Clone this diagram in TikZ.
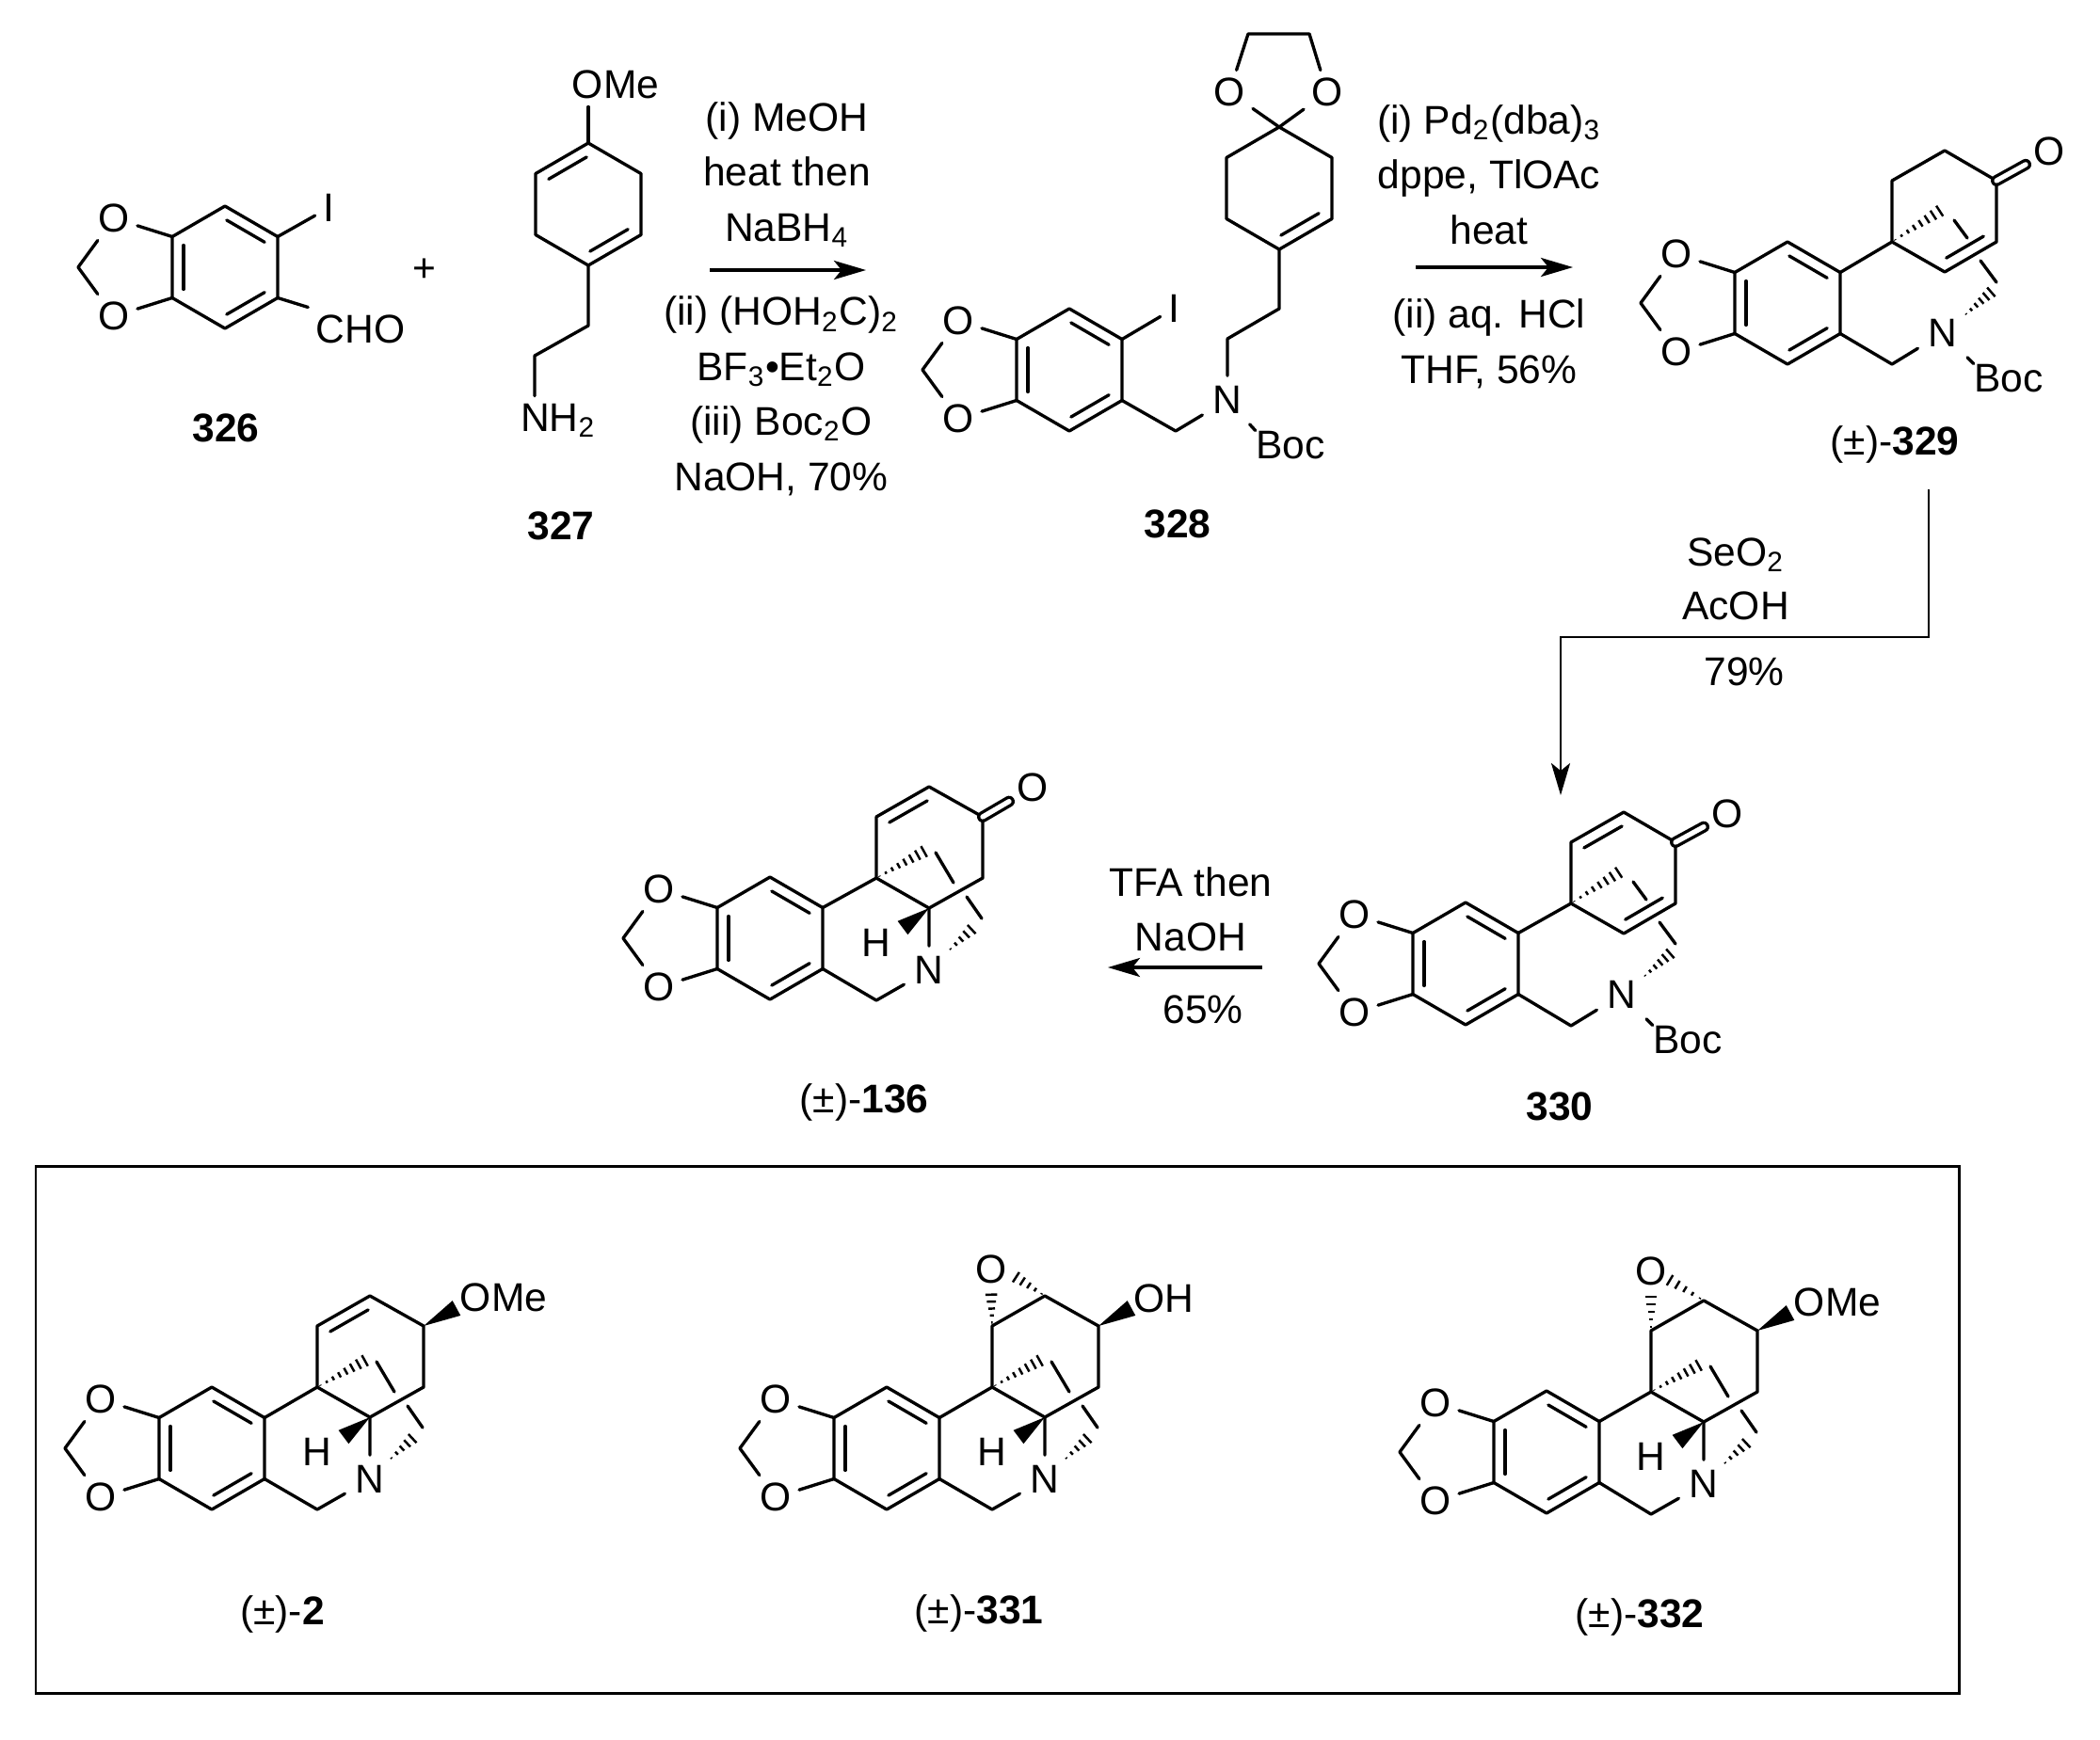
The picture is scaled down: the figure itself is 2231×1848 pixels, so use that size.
\documentclass[tikz,border=0pt]{standalone}
\usepackage{fontspec}
\setmainfont{Liberation Sans}
\usetikzlibrary{arrows.meta,calc}
\newcommand{\chemfont}{\fontsize{12.1}{16.6}\selectfont}
\newcommand{\inbond}[2]{\draw[bond] ($(#1)!.14!(#2)!0.12cm!-90:(#2)$) -- ($(#2)!.14!(#1)!0.12cm!90:(#1)$);}
\newcommand{\hashbond}[3]{\foreach \i [evaluate=\i as \t using (\i-.5)/#3] in {1,...,#3}
  {\draw[hash] ($(#1)!\t!(#2)!\t*0.07cm!90:(#2)$) -- ($(#1)!\t!(#2)!\t*0.07cm!-90:(#2)$);}}
\newcommand{\wedgebond}[2]{\fill ($(#2)!.09cm!90:(#1)$) -- (#1) -- ($(#2)!.09cm!-90:(#1)$) -- cycle;}
\newcommand{\hexring}{
  \coordinate (-t) at (0,-65);
  \coordinate (-tr) at (56,-32.5);
  \coordinate (-br) at (56,32.5);
  \coordinate (-b) at (0,65);
  \coordinate (-bl) at (-56,32.5);
  \coordinate (-tl) at (-56,-32.5);
  \draw[bond] (-t) -- (-tr) -- (-br) -- (-b) -- (-bl) -- (-tl) -- cycle;}
\tikzset{
  bond/.style={line width=.95pt,line cap=round,line join=round},
  hash/.style={line width=.7pt},
  dbl/.style={bond,double,double distance=1.5pt},
  rxn/.style={line width=.95pt,-{Stealth[length=3.4mm,width=2mm,inset=.8mm]}},
  atom/.style={inner sep=2.2pt},
  natom/.style={inner sep=3pt},
  bocatom/.style={inner sep=0pt},
  txt/.style={inner sep=0pt,text height=8.7pt,text depth=0pt},
  reag/.style={inner sep=0pt,align=center,anchor=base},
  hexring/.pic={\hexring},
  dioxole/.pic={
    \hexring
    \inbond{-t}{-tr}
    \inbond{-br}{-b}
    \inbond{-bl}{-tl}
    \node[atom] (-o1) at (-118,-52) {O};
    \node[atom] (-o2) at (-118,52) {O};
    \coordinate (-ch) at (-156,0);
    \draw[bond] (-tl) -- (-o1) -- (-ch) -- (-o2) -- (-bl);
  },
  nbridge/.pic={
    \coordinate (-q) at (0,0);
    \coordinate (-u1) at (0,-65);
    \coordinate (-u2) at (56,-97);
    \coordinate (-u3) at (113,-65);
    \coordinate (-u4) at (113,0);
    \coordinate (-u5) at (56,32);
    \coordinate (-ch) at (0,130);
    \node[natom] (-n) at (56,98) {N};
    \node[atom] (-h) at (0,69) {H};
    \coordinate (-ha) at (54,-30);
    \coordinate (-la) at (63,-27);
    \coordinate (-lb) at (82,5);
    \coordinate (-lc) at (96,20);
    \coordinate (-ld) at (112,43);
    \coordinate (-hb) at (104,52);
    \coordinate (-hc) at (76,78);
    \coordinate (-wd) at (28,53);
    \draw[bond] (-q) -- (-u1) -- (-u2) -- (-u3) -- (-u4) -- (-u5) -- cycle;
    \draw[bond] (-u5) -- (-n) -- (-ch);
    \draw[bond] (-la) -- (-lb);
    \draw[bond] (-lc) -- (-ld);
    \hashbond{-q}{-ha}{8}
    \hashbond{-hc}{-hb}{5}
    \wedgebond{-u5}{-wd}
  },
  bocbridge/.pic={
    \coordinate (-q) at (0,0);
    \coordinate (-u1) at (0,-65);
    \coordinate (-u2) at (56,-97);
    \coordinate (-u3) at (111,-65);
    \coordinate (-u4) at (111,0);
    \coordinate (-u5) at (56,32);
    \coordinate (-ch) at (0,130);
    \node[natom] (-n) at (54,97) {N};
    \node[bocatom] (-boc) at (124,145) {Boc};
    \coordinate (-ha) at (54,-35);
    \coordinate (-la) at (66,-23);
    \coordinate (-lb) at (80,-4);
    \coordinate (-lc) at (94,20);
    \coordinate (-ld) at (111,43);
    \coordinate (-hb) at (108,51);
    \coordinate (-hc) at (76,79);
    \draw[bond] (-q) -- (-u1) -- (-u2) -- (-u3) -- (-u4) -- (-u5) -- cycle;
    \draw[bond] (-ch) -- (-n) -- (-boc.north west);
    \draw[bond] (-la) -- (-lb);
    \draw[bond] (-lc) -- (-ld);
    \hashbond{-q}{-ha}{8}
    \hashbond{-hc}{-hb}{6}
  }
}
\begin{document}
\begin{tikzpicture}[x=0.01cm,y=-0.01cm,every node/.append style={font=\chemfont}]
  \useasboundingbox (0,0) rectangle (2231,1848);

  % 326
  \pic (ar1) at (239,284) {dioxole};
  \node[atom] (iod1) at (349,221) {I};
  \node[atom] (cho) at (383,350) {CHO};
  \draw[bond] (ar1-tr) -- (iod1);
  \draw[bond] (ar1-br) -- (cho.north west);
  \node[txt] (lb326) at (240,454) {\textbf{326}};
  \node[atom] (plus) at (451,287) {+};

  % 327
  \pic (hx2) at (625,217) {hexring};
  \inbond{hx2-tl}{hx2-t}
  \inbond{hx2-br}{hx2-b}
  \node[atom] (ome1) at (654,90) {OMe};
  \node[atom] (nh2) at (593,447) {NH\textsubscript{2}};
  \coordinate (c1) at (625,346);
  \coordinate (c2) at (568,378);
  \draw[bond] (hx2-t) -- (hx2-t |- ome1.south);
  \draw[bond] (hx2-b) -- (c1) -- (c2) -- (c2 |- nh2.north);
  \node[txt] (lb327) at (596,558) {\textbf{327}};

  % first step
  \coordinate (ra) at (754,287);
  \coordinate (rb) at (920,287);
  \draw[rxn] (ra) -- (rb);
  \node[reag] (rg1a) at (836,256) {(i) MeOH\\heat then\\NaBH\textsubscript{4}};
  \node[reag] (rg1b) at (830,521) {(ii) (HOH\textsubscript{2}C)\textsubscript{2}\\BF\textsubscript{3}•Et\textsubscript{2}O\\(iii) Boc\textsubscript{2}O\\NaOH, 70\%};

  % 328
  \pic (ar3) at (1136,393) {dioxole};
  \pic (hx3) at (1359,200) {hexring};
  \inbond{hx3-br}{hx3-b}
  \node[atom] (iod3) at (1247,328) {I};
  \node[atom] (oa) at (1306,98) {O};
  \node[atom] (ob) at (1410,98) {O};
  \coordinate (ea) at (1326,36);
  \coordinate (eb) at (1391,36);
  \node[natom] (n3) at (1304,425) {N};
  \node[bocatom] (boc3) at (1371,473) {Boc};
  \coordinate (c3) at (1359,328);
  \coordinate (c4) at (1304,360);
  \coordinate (c5) at (1249,458);
  \draw[bond] (hx3-t) -- (oa) -- (ea) -- (eb) -- (ob) -- (hx3-t);
  \draw[bond] (hx3-b) -- (c3) -- (c4) -- (n3) -- (c5) -- (ar3-br);
  \draw[bond] (n3) -- (boc3.north west);
  \draw[bond] (ar3-tr) -- (iod3);
  \node[txt] (lb328) at (1251,556) {\textbf{328}};

  % second step
  \coordinate (rc) at (1504,284);
  \coordinate (rd) at (1671,284);
  \draw[rxn] (rc) -- (rd);
  \node[reag] (rg2a) at (1582,259) {(i) Pd\textsubscript{2}(dba)\textsubscript{3}\\dppe, TlOAc\\heat};
  \node[reag] (rg2b) at (1582,407) {(ii) aq. HCl\\THF, 56\%};

  % 329
  \pic (ar4) at (1899,322) {dioxole};
  \pic (br4) at (2010,257) {bocbridge};
  \inbond{br4-u4}{br4-u5}
  \node[atom] (ok4) at (2177,161) {O};
  \draw[bond] (ar4-tr) -- (br4-q);
  \draw[bond] (ar4-br) -- (br4-ch);
  \draw[dbl] (br4-u3) -- (ok4);
  \node[txt] (lb329) at (2013,468) {(±)-\textbf{329}};

  % third step
  \coordinate (sa) at (2049,520);
  \coordinate (sb) at (2049,677);
  \coordinate (sc) at (1658,677);
  \coordinate (sd) at (1658,845);
  \draw[rxn,line width=.8pt] (sa) -- (sb) -- (sc) -- (sd);
  \node[txt] (rg3a) at (1844,586) {SeO\textsubscript{2}};
  \node[txt] (rg3b) at (1844,643) {AcOH};
  \node[txt] (rg3c) at (1853,713) {79\%};

  % 330
  \pic (ar5) at (1557,1024) {dioxole};
  \pic (br5) at (1669,960) {bocbridge};
  \inbond{br5-u1}{br5-u2}
  \inbond{br5-u4}{br5-u5}
  \node[atom] (ok5) at (1835,865) {O};
  \draw[bond] (ar5-tr) -- (br5-q);
  \draw[bond] (ar5-br) -- (br5-ch);
  \draw[dbl] (br5-u3) -- (ok5);
  \node[txt] (lb330) at (1657,1175) {\textbf{330}};

  % fourth step
  \coordinate (re) at (1341,1028);
  \coordinate (rf) at (1177,1028);
  \draw[rxn] (re) -- (rf);
  \node[txt] (rg4a) at (1265,937) {TFA then};
  \node[txt] (rg4b) at (1265,995) {NaOH};
  \node[txt] (rg4c) at (1278,1072) {65\%};

  % 136
  \pic (ar6) at (818,997) {dioxole};
  \pic (br6) at (931,933) {nbridge};
  \inbond{br6-u1}{br6-u2}
  \node[atom] (ok6) at (1097,837) {O};
  \draw[bond] (ar6-tr) -- (br6-q);
  \draw[bond] (ar6-br) -- (br6-ch);
  \draw[dbl] (br6-u3) -- (ok6);
  \node[txt] (lb136) at (918,1167) {(±)-\textbf{136}};

  % box
  \coordinate (fa) at (38,1239);
  \coordinate (fb) at (2081,1799);
  \draw[line width=.85pt] (fa) rectangle (fb);

  % 2
  \pic (ar7) at (225,1539) {dioxole};
  \pic (br7) at (337,1474) {nbridge};
  \inbond{br7-u1}{br7-u2}
  \node[atom] (ome7) at (535,1379) {OMe};
  \coordinate (wd7) at (485,1390);
  \draw[bond] (ar7-tr) -- (br7-q);
  \draw[bond] (ar7-br) -- (br7-ch);
  \wedgebond{br7-u3}{wd7}
  \node[txt] (lb2) at (300,1711) {(±)-\textbf{2}};

  % 331
  \pic (ar8) at (942,1539) {dioxole};
  \pic (br8) at (1054,1474) {nbridge};
  \node[atom] (oe8) at (1053,1349) {O};
  \node[atom] (oh8) at (1236,1380) {OH};
  \coordinate (wd8) at (1202,1390);
  \coordinate (ha8) at (1053,1372);
  \coordinate (hb8) at (1076,1355);
  \draw[bond] (ar8-tr) -- (br8-q);
  \draw[bond] (ar8-br) -- (br8-ch);
  \hashbond{br8-u1}{ha8}{5}
  \hashbond{br8-u2}{hb8}{5}
  \wedgebond{br8-u3}{wd8}
  \node[txt] (lb331) at (1040,1710) {(±)-\textbf{331}};

  % 332
  \pic (ar9) at (1643,1543) {dioxole};
  \pic (br9) at (1754,1479) {nbridge};
  \node[atom] (oe9) at (1754,1351) {O};
  \node[atom] (ome9) at (1952,1384) {OMe};
  \coordinate (wd9) at (1902,1395);
  \coordinate (ha9) at (1754,1374);
  \coordinate (hb9) at (1770,1358);
  \draw[bond] (ar9-tr) -- (br9-q);
  \draw[bond] (ar9-br) -- (br9-ch);
  \hashbond{br9-u1}{ha9}{5}
  \hashbond{br9-u2}{hb9}{5}
  \wedgebond{br9-u3}{wd9}
  \node[txt] (lb332) at (1742,1714) {(±)-\textbf{332}};
\end{tikzpicture}
\end{document}
